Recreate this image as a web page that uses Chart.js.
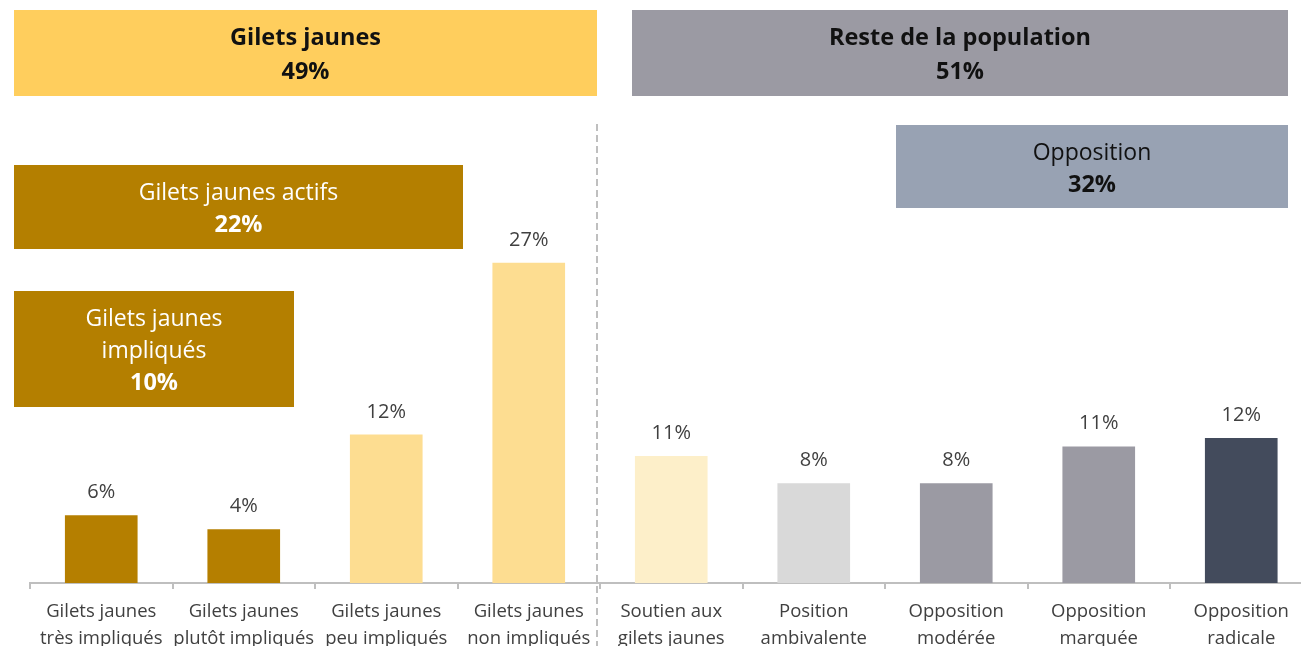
<!DOCTYPE html>
<html>
<head>
<meta charset="utf-8">
<script src="https://cdn.jsdelivr.net/npm/chart.js@4/dist/chart.umd.min.js"></script>
<style>
  body { margin: 0; overflow: hidden; background: #fff; }
  #wrap { width: 1330px; height: 646px; }
</style>
</head>
<body>
<div id="wrap"><canvas id="myChart"></canvas></div>
<script>
// categories (two lines each)
let categories = [
  ["Gilets jaunes", "très impliqués"],
  ["Gilets jaunes", "plutôt impliqués"],
  ["Gilets jaunes", "peu impliqués"],
  ["Gilets jaunes", "non impliqués"],
  ["Soutien aux", "gilets jaunes"],
  ["Position", "ambivalente"],
  ["Opposition", "modérée"],
  ["Opposition", "marquée"],
  ["Opposition", "radicale"]
]
let values = [5.7, 4.5, 12.5, 27, 10.7, 8.4, 8.4, 11.5, 12.2]
let valueLabels = ["6%", "4%", "12%", "27%", "11%", "8%", "8%", "11%", "12%"]
let barColors = ["#B57F00", "#B57F00", "#FDDD91", "#FDDD91", "#FDEFC9", "#D9D9D9", "#9B9AA3", "#9B9AA3", "#434B5C"]

// group boxes: text lines, bold flags, and where they sit
let boxTexts = [
  ["Gilets jaunes", "49%"],
  ["Reste de la population", "51%"],
  ["Opposition", "32%"],
  ["Gilets jaunes actifs", "22%"],
  ["Gilets jaunes", "impliqués", "10%"]
]
let boxBold = [[true, true], [true, true], [false, true], [false, true], [false, false, true]]
let boxColors = ["#FFCE5D", "#9B9AA3", "#98A2B3", "#B47F00", "#B47F00"]
let boxTextColors = ["#111", "#111", "#111", "#fff", "#fff"]
let boxRects = [[14, 10, 583, 86], [632, 10, 656, 86], [896, 125, 392, 83], [14, 165, 449, 84], [14, 291, 280, 116]]
let boxLineGap = [34, 34, 32, 32, 32]

const FONT = "'Open Sans', sans-serif"

let boxesPlugin = {
  id: "boxes",
  afterDraw(chart) {
    let ctx = chart.ctx
    ctx.save()
    // dashed separator
    ctx.strokeStyle = "#BFBFBF"
    ctx.lineWidth = 2
    ctx.setLineDash([7, 4])
    ctx.beginPath()
    ctx.moveTo(597, 124)
    ctx.lineTo(597, 646)
    ctx.stroke()
    ctx.setLineDash([])

    boxTexts.forEach((lines, i) => {
      let r = boxRects[i]
      ctx.fillStyle = boxColors[i]
      ctx.fillRect(r[0], r[1], r[2], r[3])
      ctx.fillStyle = boxTextColors[i]
      ctx.textAlign = "center"
      ctx.textBaseline = "middle"
      let lh = boxLineGap[i]
      let y0 = r[1] + r[3] / 2 - (lines.length - 1) * lh / 2 + 2.5
      lines.forEach((t, j) => {
        ctx.font = (boxBold[i][j] ? "bold 23.5px " : "23px ") + FONT
        ctx.fillText(t, r[0] + r[2] / 2, y0 + j * lh)
      })
    })
    ctx.restore()
  }
}

let labelsPlugin = {
  id: "valueLabels",
  afterDatasetsDraw(chart) {
    let ctx = chart.ctx
    let meta = chart.getDatasetMeta(0)
    ctx.save()
    ctx.font = "20px " + FONT
    ctx.fillStyle = "#404040"
    ctx.textAlign = "center"
    ctx.textBaseline = "bottom"
    meta.data.forEach((bar, i) => {
      ctx.fillText(valueLabels[i], bar.x, bar.y - 13)
    })
    ctx.restore()
  }
}

new Chart("myChart", {
  type: "bar",
  data: {
    labels: categories,
    datasets: [{
      data: values,
      backgroundColor: barColors,
      barThickness: 72
    }]
  },
  options: {
    responsive: true,
    maintainAspectRatio: false,
    animation: false,
    layout: { padding: { left: 30, right: 17.5, top: 109, bottom: 0 } },
    plugins: { legend: { display: false }, tooltip: { enabled: false } },
    scales: {
      x: {
        offset: true,
        grid: { offset: true, drawOnChartArea: false, drawTicks: true, tickLength: 6, color: "#BFBFBF", lineWidth: 2 },
        border: { display: true, color: "#BFBFBF", width: 2 },
        ticks: { color: "#404040", font: { family: FONT, size: 18.5, lineHeight: 1.42 }, padding: 10, maxRotation: 0, autoSkip: false },
        afterFit(scale) { scale.height = 63 }
      },
      y: { display: false, min: 0, max: 40 }
    }
  },
  plugins: [boxesPlugin, labelsPlugin]
})
</script>
</body>
</html>
